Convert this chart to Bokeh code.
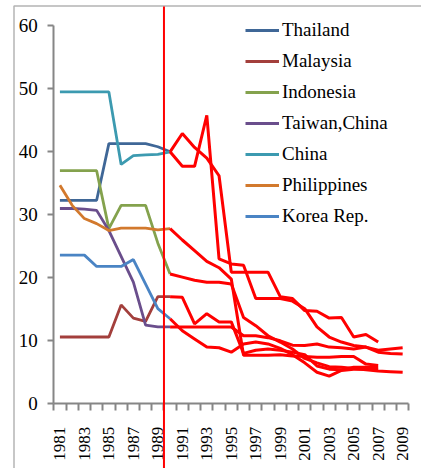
import numpy as np
from bokeh.plotting import figure
from bokeh.models import Range1d, FixedTicker, Legend, LegendItem, BoxAnnotation
from bokeh.embed import file_html
from bokeh.resources import INLINE

nan = np.nan

# ---- data ----
years_pre = list(range(1981, 1991))
years_post = list(range(1990, 2010))
x_label_years = list(range(1981, 2010, 2))
x_boundaries = [y + 0.5 for y in range(1980, 2010)]
y_ticks = [0, 10, 20, 30, 40, 50, 60]

countries = ["Thailand", "Malaysia", "Indonesia", "Taiwan,China", "China", "Philippines", "Korea Rep."]
colors = ["#3F6797", "#A33F3C", "#84A24D", "#6A4E8C", "#3C9AB0", "#D2792D", "#4A84C4"]

thailand_pre    = [32.3, 32.3, 32.3, 32.3, 41.3, 41.3, 41.3, 41.3, 40.8, 40.0]
malaysia_pre    = [10.6, 10.6, 10.6, 10.6, 10.6, 15.7, 13.6, 13.1, 17.0, 17.0]
indonesia_pre   = [37.0, 37.0, 37.0, 37.0, 27.8, 31.5, 31.5, 31.5, 25.5, 20.6]
taiwan_pre      = [31.0, 31.0, 30.9, 30.7, 27.5, 23.4, 19.3, 12.5, 12.2, 12.2]
china_pre       = [49.5, 49.5, 49.5, 49.5, 49.5, 38.0, 39.4, 39.5, 39.6, 40.0]
philippines_pre = [34.7, 31.5, 29.4, 28.6, 27.5, 27.9, 27.9, 27.9, 27.6, 27.8]
korea_pre       = [23.6, 23.6, 23.6, 21.8, 21.8, 21.8, 22.9, 19.0, 15.1, 13.5]

thailand_post    = [40.0, 42.9, 40.7, 39.0, 36.2, 20.9, 20.9, 20.9, 20.9, 17.0, 16.7, 14.8, 14.7, 13.6, 13.7, 10.6, 11.0, 9.8, nan, nan]
china_post       = [40.0, 37.7, 37.7, 45.8, 23.0, 22.2, 22.0, 16.7, 16.7, 16.7, 16.3, 15.1, 12.2, 10.6, 9.8, 9.25, 9.0, 8.2, 8.0, 7.9]
indonesia_post   = [20.6, 20.1, 19.6, 19.3, 19.3, 19.0, 13.7, 12.4, 10.8, 9.8, 8.7, 7.2, 6.5, 5.9, 5.8, 5.6, 5.4, 5.2, 5.1, 5.0]
philippines_post = [27.8, 26.0, 24.3, 22.6, 21.6, 19.8, 7.7, 7.7, 7.7, 7.8, 7.6, 7.5, 7.4, 7.4, 7.5, 7.5, 6.3, 6.1, nan, nan]
korea_post       = [13.5, 11.6, 10.3, 9.0, 8.9, 8.2, 9.5, 9.8, 9.5, 8.8, 7.8, 6.5, 5.0, 4.4, 5.3, 5.5, 5.5, 5.5, nan, nan]
taiwan_post      = [12.2, 12.2, 12.2, 12.2, 12.2, 12.2, 10.8, 10.8, 10.5, 10.0, 9.3, 9.25, 9.5, 9.0, 8.9, 8.7, 9.0, 8.5, 8.7, 8.9]
malaysia_post    = [17.0, 16.9, 12.7, 14.3, 13.0, 13.0, 8.0, 8.5, 8.7, 8.5, 8.2, 7.8, 6.0, 5.5, 5.4, 5.8, 5.8, 5.8, nan, nan]

pre_series = [thailand_pre, malaysia_pre, indonesia_pre, taiwan_pre, china_pre, philippines_pre, korea_pre]
post_series = [thailand_post, malaysia_post, indonesia_post, taiwan_post, china_post, philippines_post, korea_post]
break_year = 1989.5

FONT = "Liberation Serif"
W, H = 421, 468

# ranges extend past the axes so the frame covers the whole canvas;
# the axes are pinned at x=1980.5 / y=0 and bounded to the data area
p = figure(width=W, height=H, output_backend="svg", toolbar_location=None,
           x_range=Range1d(1976.146, 2010.539), y_range=Range1d(-10.27, 64.016),
           min_border_left=0, min_border_right=0, min_border_top=0, min_border_bottom=0)
p.grid.visible = False
p.outline_line_color = None
p.background_fill_color = "white"
p.border_fill_color = "white"

items = []
for name, col, ys in zip(countries, colors, pre_series):
    r = p.line(years_pre, ys, line_color=col, line_width=2.8)
    items.append(LegendItem(label=name, renderers=[r]))

for ys in post_series:
    p.line(years_post, ys, line_color="#FF0000", line_width=3)

# axes
ax = p.xaxis[0]
ax.fixed_location = 0
ax.bounds = (1980.5, 2009.5)
ax.ticker = FixedTicker(ticks=x_label_years, minor_ticks=x_boundaries)
ax.major_tick_line_color = None
ax.major_tick_out = 0
ax.major_tick_in = 0
ax.minor_tick_line_color = "#868686"
ax.minor_tick_line_width = 2
ax.minor_tick_out = 7
ax.minor_tick_in = 0
ax.axis_line_color = "#868686"
ax.axis_line_width = 2
ax.major_label_orientation = np.pi / 2
ax.major_label_standoff = 16
ax.major_label_text_font = FONT
ax.major_label_text_font_size = "17px"
ax.major_label_text_color = "black"

ay = p.yaxis[0]
ay.fixed_location = 1980.5
ay.bounds = (0, 60)
ay.ticker = FixedTicker(ticks=y_ticks)
ay.minor_tick_line_color = None
ay.major_tick_line_color = "#868686"
ay.major_tick_line_width = 2
ay.major_tick_out = 6
ay.major_tick_in = 0
ay.axis_line_color = "#868686"
ay.axis_line_width = 2
ay.major_label_standoff = 10
ay.major_label_text_font = FONT
ay.major_label_text_font_size = "19px"
ay.major_label_text_color = "black"

# chart border (left/top edges visible in the window)
p.add_layout(BoxAnnotation(left=13.5, right=3000, top=5.5, bottom=3000,
                           left_units="canvas", right_units="canvas",
                           top_units="canvas", bottom_units="canvas",
                           fill_color=None, line_color="#B4B4B4", line_alpha=1.0, line_width=1.5))

# red vertical break line across the whole chart
p.add_layout(BoxAnnotation(left=break_year, right=break_year, top=6, bottom=3000,
                           left_units="data", right_units="data",
                           top_units="canvas", bottom_units="canvas",
                           fill_color=None, line_color="#FF0000", line_alpha=1.0, line_width=2))

legend = Legend(items=items, location=(245, 241), padding=0, margin=0,
                border_line_color=None, background_fill_alpha=0,
                glyph_width=34, glyph_height=22, label_height=22, spacing=9,
                label_standoff=3, label_text_font=FONT, label_text_font_size="19px",
                label_text_color="black")
p.add_layout(legend)

open("out.html", "w").write(file_html(p, INLINE))
